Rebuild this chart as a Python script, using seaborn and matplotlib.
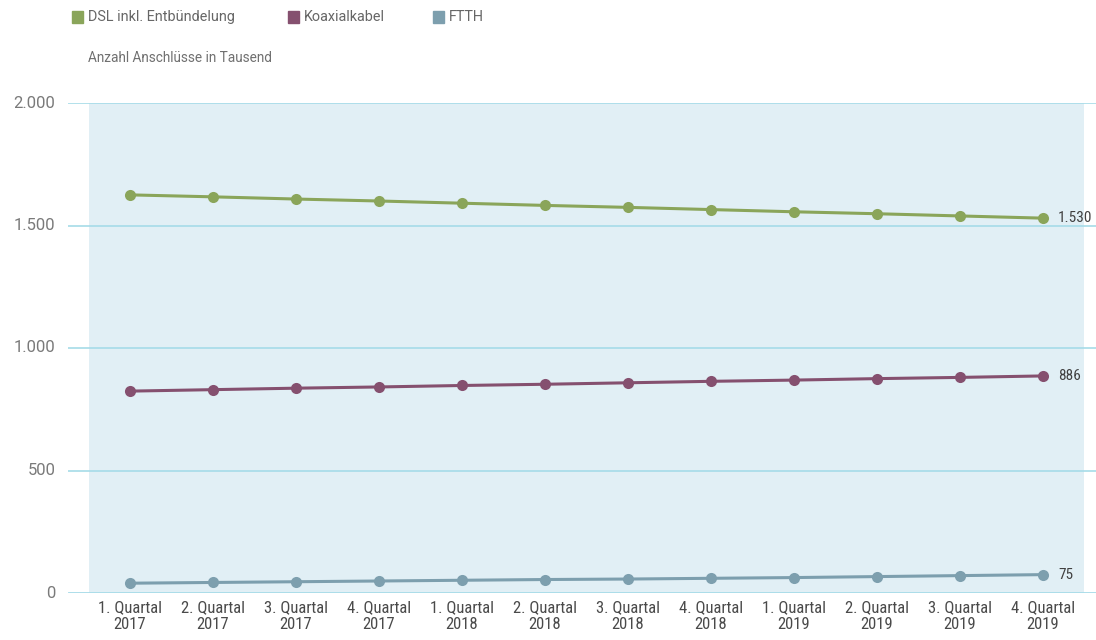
import matplotlib
matplotlib.use("Agg")
import matplotlib.pyplot as plt
import seaborn as sns
import pandas as pd
from matplotlib.patches import Rectangle

quarters = ["1. Quartal\n2017", "2. Quartal\n2017", "3. Quartal\n2017", "4. Quartal\n2017",
            "1. Quartal\n2018", "2. Quartal\n2018", "3. Quartal\n2018", "4. Quartal\n2018",
            "1. Quartal\n2019", "2. Quartal\n2019", "3. Quartal\n2019", "4. Quartal\n2019"]
dsl = [1625, 1617, 1608, 1600, 1591, 1582, 1574, 1565, 1556, 1548, 1539, 1530]
koax = [824, 830, 836, 841, 847, 852, 858, 864, 869, 875, 880, 886]
ftth = [40, 43, 46, 49, 52, 55, 57, 60, 63, 67, 71, 75]
series_names = ["DSL inkl. Entbündelung", "Koaxialkabel", "FTTH"]
colors = ["#8aa55a", "#85506f", "#7d9fae"]
y_ticks = [0, 500, 1000, 1500, 2000]
y_tick_labels = ["0", "500", "1.000", "1.500", "2.000"]

rows = []
for name, vals in zip(series_names, [dsl, koax, ftth]):
    for i, v in enumerate(vals):
        rows.append({"idx": i, "wert": v, "serie": name})
df = pd.DataFrame(rows)

sns.set_theme(style="white")
narrow = ["Roboto Condensed", "Liberation Sans Narrow", "Roboto", "DejaVu Sans"]
regular = ["Roboto", "Liberation Sans", "DejaVu Sans"]
plt.rcParams["font.family"] = regular

fig = plt.figure(figsize=(10.96, 6.40), dpi=100)
ax = fig.add_axes([68 / 1096, 47 / 640, 1 - 68 / 1096, 490 / 640])

# shaded plotting band
ax.axvspan(-0.5, 11.5, color="#e1eff5", zorder=0, lw=0)

for y in y_ticks:
    ax.axhline(y, color="#a6dbe8", lw=2.0 if y == 0 else 1.2, zorder=1)

sns.lineplot(data=df, x="idx", y="wert", hue="serie", palette=colors,
             hue_order=series_names, marker="o", markersize=8, markeredgewidth=0,
             linewidth=2.2, ax=ax, legend=False, zorder=3)

x0 = -62 / 83
x1 = (1096 - 130) / 83
ax.set_xlim(x0, x1)
ax.set_ylim(0, 2000)
ax.set_xticks(range(12))
ax.set_xticklabels(quarters, fontsize=12, color="#4a4a4a", linespacing=1.2,
                   family=narrow, fontstretch="condensed")
ax.set_yticks([])
for y, lab in zip(y_ticks, y_tick_labels):
    ax.text(-0.9, y, lab, ha="right", va="center", fontsize=12, color="#7a7a7a",
            family=regular)
ax.tick_params(axis="x", length=0, pad=5)
ax.set_xlabel("")
ax.set_ylabel("")
for s in ax.spines.values():
    s.set_visible(False)
ax.set_facecolor("none")

# end value labels
for vals in [dsl, koax, ftth]:
    v = vals[-1]
    lab = f"{v:,}".replace(",", ".")
    ax.text(11.18, v, lab, ha="left", va="center", fontsize=11, color="#404040",
            family=narrow, fontstretch="condensed")

# legend row
leg_items = [(72, series_names[0]), (288, series_names[1]), (433, series_names[2])]
for (px, name), c in zip(leg_items, colors):
    fig.patches.append(Rectangle((px / 1096, 1 - 23 / 640), 11 / 1096, 12 / 640,
                                 transform=fig.transFigure, color=c))
    fig.text((px + 16) / 1096, 1 - 17 / 640, name, ha="left", va="center",
             fontsize=10.4, color="#666666", family=regular)

fig.text(88 / 1096, 1 - 58 / 640, "Anzahl Anschlüsse in Tausend", ha="left", va="center",
         fontsize=9.8, color="#707070", family=regular)

fig.savefig("out.png", dpi=100, facecolor="white")
